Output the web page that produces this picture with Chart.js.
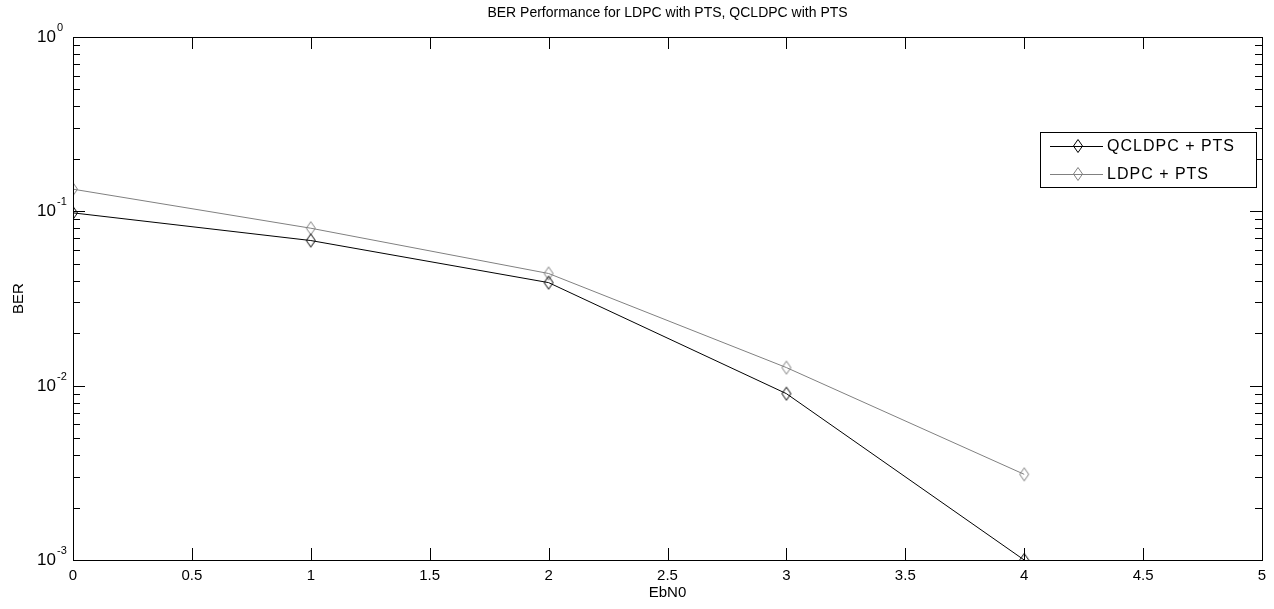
<!DOCTYPE html>
<html><head><meta charset="utf-8">
<script src="https://cdn.jsdelivr.net/npm/chart.js@4.4.1/dist/chart.umd.min.js"></script>
<style>html,body{margin:0;padding:0;background:#fff}#wrap{width:1274px;height:609px}</style>
</head><body><div id="wrap"><canvas id="c" width="1274" height="609"></canvas></div>
<script>
const ebn0 = [0, 1, 2, 3, 4];
const qcldpc = [0.098, 0.068, 0.039, 0.0090, 0.0010];
const ldpc = [0.134, 0.080, 0.044, 0.0127, 0.0031];
const xTicks = [0, 0.5, 1, 1.5, 2, 2.5, 3, 3.5, 4, 4.5, 5];
const yExponents = [0, -1, -2, -3];
const seriesNames = ['QCLDPC + PTS', 'LDPC + PTS'];
const seriesColors = ['#000000', '#808080'];
const titleText = 'BER Performance for LDPC with PTS, QCLDPC with PTS';
const FONT = '"Liberation Sans", Arial, sans-serif';

function diamond(color) {
  const cv = document.createElement('canvas');
  cv.width = 12; cv.height = 16;
  const g = cv.getContext('2d');
  g.strokeStyle = color; g.lineWidth = 1;
  g.beginPath();
  g.moveTo(6, 1.5); g.lineTo(10.5, 8); g.lineTo(6, 14.5); g.lineTo(1.5, 8); g.closePath();
  g.stroke();
  return cv;
}
const markers = seriesColors.map(diamond);

const decor = {
  id: 'decor',
  afterDraw(chart) {
    const ctx = chart.ctx, a = chart.chartArea;
    const xs = chart.scales.x, ys = chart.scales.y;
    ctx.save();
    ctx.strokeStyle = '#000'; ctx.lineWidth = 1;
    ctx.strokeRect(Math.round(a.left) + 0.5, Math.round(a.top) + 0.5, Math.round(a.right - a.left), Math.round(a.bottom - a.top));
    ctx.beginPath();
    xTicks.forEach(v => {
      const px = Math.round(xs.getPixelForValue(v)) + 0.5;
      ctx.moveTo(px, a.bottom); ctx.lineTo(px, a.bottom - 12);
      ctx.moveTo(px, a.top); ctx.lineTo(px, a.top + 12);
    });
    for (let e = -3; e <= 0; e++) {
      for (let m = 1; m <= 9; m++) {
        if (e === 0 && m > 1) break;
        const v = m * Math.pow(10, e);
        const py = Math.round(ys.getPixelForValue(v)) + 0.5;
        const len = m === 1 ? 12 : 7;
        ctx.moveTo(a.left, py); ctx.lineTo(a.left + len, py);
        ctx.moveTo(a.right, py); ctx.lineTo(a.right - len, py);
      }
    }
    ctx.stroke();
    ctx.fillStyle = '#000';
    ctx.textBaseline = 'alphabetic';
    yExponents.forEach(e => {
      const py = ys.getPixelForValue(Math.pow(10, e));
      ctx.font = '17px ' + FONT;
      ctx.textAlign = 'right';
      ctx.fillText('10', a.left - 17, py + 5);
      ctx.font = '11px ' + FONT;
      ctx.textAlign = 'left';
      ctx.fillText(String(e), a.left - 16, py - 6);
    });
    ctx.font = '14px ' + FONT;
    ctx.textAlign = 'center'; ctx.textBaseline = 'middle';
    ctx.fillText(titleText, (a.left + a.right) / 2, 13);
    ctx.font = '15px ' + FONT;
    ctx.fillText('EbN0', (a.left + a.right) / 2, 593);
    ctx.save();
    ctx.translate(19, (a.top + a.bottom) / 2);
    ctx.rotate(-Math.PI / 2);
    ctx.fillText('BER', 0, 0);
    ctx.restore();
    const lx = 1040, ly = 132, lw = 216, lh = 55;
    ctx.fillStyle = '#fff';
    ctx.fillRect(lx, ly, lw, lh);
    ctx.strokeStyle = '#000';
    ctx.strokeRect(lx + 0.5, ly + 0.5, lw, lh);
    seriesNames.forEach((n, i) => {
      const yy = ly + 14 + i * 28 + 0.5;
      ctx.strokeStyle = seriesColors[i];
      ctx.beginPath(); ctx.moveTo(1050, yy); ctx.lineTo(1103, yy); ctx.stroke();
      ctx.drawImage(markers[i], 1078 - 6, yy - 8.5);
      ctx.fillStyle = '#000';
      ctx.font = '16px ' + FONT;
      ctx.letterSpacing = '1px';
      ctx.textAlign = 'left'; ctx.textBaseline = 'middle';
      ctx.fillText(n, 1107, yy);
      ctx.letterSpacing = '0px';
    });
    ctx.restore();
  }
};

new Chart(document.getElementById('c'), {
  type: 'line',
  data: {
    datasets: [
      { label: seriesNames[0], data: ebn0.map((x, i) => ({x, y: qcldpc[i]})), borderColor: seriesColors[0], borderWidth: 1, pointStyle: markers[0], pointRadius: 6, tension: 0, fill: false },
      { label: seriesNames[1], data: ebn0.map((x, i) => ({x, y: ldpc[i]})), borderColor: seriesColors[1], borderWidth: 1, pointStyle: markers[1], pointRadius: 6, tension: 0, fill: false }
    ]
  },
  options: {
    responsive: false, animation: false, devicePixelRatio: 1,
    layout: { padding: { left: 0, right: 12, top: 37, bottom: 0 } },
    plugins: { legend: { display: false }, title: { display: false }, tooltip: { enabled: false } },
    scales: {
      x: {
        type: 'linear', min: 0, max: 5,
        afterFit(s) { s.height = 49; },
        afterBuildTicks(s) { s.ticks = xTicks.map(v => ({value: v})); },
        grid: { display: false, drawTicks: false },
        border: { display: false },
        ticks: { color: '#000', padding: 7, font: { family: FONT, size: 15 }, maxRotation: 0, autoSkip: false, callback: v => String(v) }
      },
      y: {
        type: 'logarithmic', min: 0.001, max: 1,
        afterFit(s) { s.width = 73; },
        grid: { display: false, drawTicks: false },
        border: { display: false },
        ticks: { display: false }
      }
    }
  },
  plugins: [decor]
});
</script></body></html>
